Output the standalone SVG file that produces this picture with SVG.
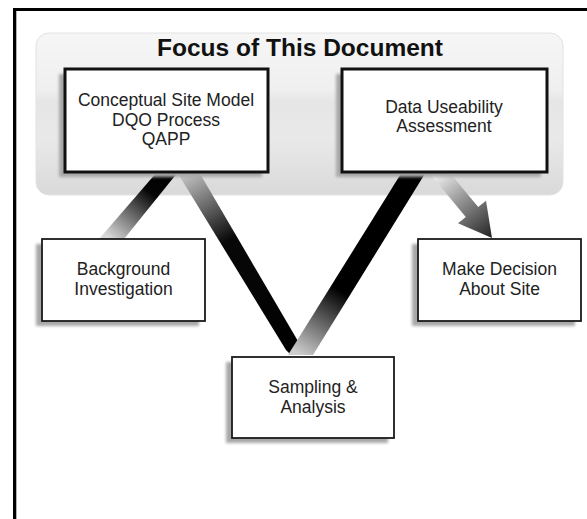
<svg xmlns="http://www.w3.org/2000/svg" width="587" height="519" viewBox="0 0 587 519">
  <style>
    .box { fill: #ffffff; stroke: #1a1a1a; stroke-width: 1.8; }
    .box-thick { fill: #ffffff; stroke: #111111; stroke-width: 3; }
    .shadow { fill: #a8a8a8; filter: url(#blur); }
    .lbl { font-family: "Liberation Sans", Arial, sans-serif; font-size: 17.5px; fill: #222222; text-anchor: middle; }
    .title { font-family: "Liberation Sans", Arial, sans-serif; font-size: 23px; font-weight: bold; fill: #111111; text-anchor: middle; }
  </style>
  <defs>
    <filter id="blur" x="-10%" y="-10%" width="120%" height="120%">
      <feGaussianBlur stdDeviation="1.4"/>
    </filter>
    <linearGradient id="panelGrad" x1="0" y1="0" x2="0" y2="1">
      <stop offset="0" stop-color="#f6f6f6"/>
      <stop offset="0.35" stop-color="#efefef"/>
      <stop offset="0.42" stop-color="#e6e6e6"/>
      <stop offset="0.65" stop-color="#e9e9e9"/>
      <stop offset="1" stop-color="#d9d9d9"/>
    </linearGradient>
    <linearGradient id="gBI" gradientUnits="userSpaceOnUse" x1="167" y1="172" x2="111" y2="239">
      <stop offset="0" stop-color="#000000"/>
      <stop offset="0.3" stop-color="#050505"/>
      <stop offset="1" stop-color="#d8d8d8"/>
    </linearGradient>
    <linearGradient id="gL" gradientUnits="userSpaceOnUse" x1="188" y1="172" x2="295" y2="352">
      <stop offset="0" stop-color="#c4c4c4"/>
      <stop offset="0.38" stop-color="#080808"/>
      <stop offset="1" stop-color="#000000"/>
    </linearGradient>
    <linearGradient id="gR" gradientUnits="userSpaceOnUse" x1="415" y1="172" x2="301" y2="355">
      <stop offset="0" stop-color="#000000"/>
      <stop offset="0.65" stop-color="#000000"/>
      <stop offset="1" stop-color="#cccccc"/>
    </linearGradient>
    <linearGradient id="gA" gradientUnits="userSpaceOnUse" x1="438" y1="172" x2="492" y2="238">
      <stop offset="0" stop-color="#f2f2f2"/>
      <stop offset="0.45" stop-color="#909090"/>
      <stop offset="1" stop-color="#222222"/>
    </linearGradient>
  </defs>

  <rect width="587" height="519" fill="#ffffff"/>

  <g id="frame">
    <rect x="13" y="8" width="574" height="3" fill="#000000"/>
    <rect x="13" y="8" width="3.3" height="511" fill="#000000"/>
  </g>

  <g id="focus-panel">
    <rect x="36" y="33" width="527" height="162" rx="13" ry="13" fill="url(#panelGrad)" stroke="#e2e2e2" stroke-width="1"/>
    <text class="title" x="300" y="56" textLength="286" lengthAdjust="spacingAndGlyphs">Focus of This Document</text>
  </g>

  <g id="connectors">
    <polygon points="157,172 178,172 124,239 99,239" fill="url(#gBI)"/>
    <polygon points="177,172 199,172 302,348 290,354 286,350" fill="url(#gL)"/>
    <polygon points="402,172 426,172 313,355 288,355" fill="url(#gR)"/>
    <polygon points="438.5,159.2 478.2,207 486,200.7 492,238 458,223.3 465.8,217 426.1,169.2" fill="url(#gA)"/>
  </g>

  <g id="node-csm">
    <rect class="shadow" x="59" y="74" width="203" height="103"/>
    <rect class="box-thick" x="65" y="69" width="203" height="103"/>
    <text class="lbl" x="166" y="106">Conceptual Site Model</text>
    <text class="lbl" x="166" y="126">DQO Process</text>
    <text class="lbl" x="166" y="145">QAPP</text>
  </g>

  <g id="node-dua">
    <rect class="shadow" x="336" y="74" width="205" height="103"/>
    <rect class="box-thick" x="342" y="69" width="205" height="103"/>
    <text class="lbl" x="444" y="112.5">Data Useability</text>
    <text class="lbl" x="444" y="131.5">Assessment</text>
  </g>

  <g id="node-bi">
    <rect class="shadow" x="36" y="244" width="163" height="82"/>
    <rect class="box" x="42" y="239" width="163" height="82"/>
    <text class="lbl" x="123.5" y="275">Background</text>
    <text class="lbl" x="123.5" y="295">Investigation</text>
  </g>

  <g id="node-mds">
    <rect class="shadow" x="412" y="244" width="163" height="82"/>
    <rect class="box" x="418" y="239" width="163" height="82"/>
    <text class="lbl" x="499.5" y="275">Make Decision</text>
    <text class="lbl" x="499.5" y="295">About Site</text>
  </g>

  <g id="node-sa">
    <rect class="shadow" x="226" y="362" width="162" height="81"/>
    <rect class="box" x="232" y="357" width="162" height="81"/>
    <text class="lbl" x="313" y="393">Sampling &amp;</text>
    <text class="lbl" x="313" y="413">Analysis</text>
  </g>
</svg>
